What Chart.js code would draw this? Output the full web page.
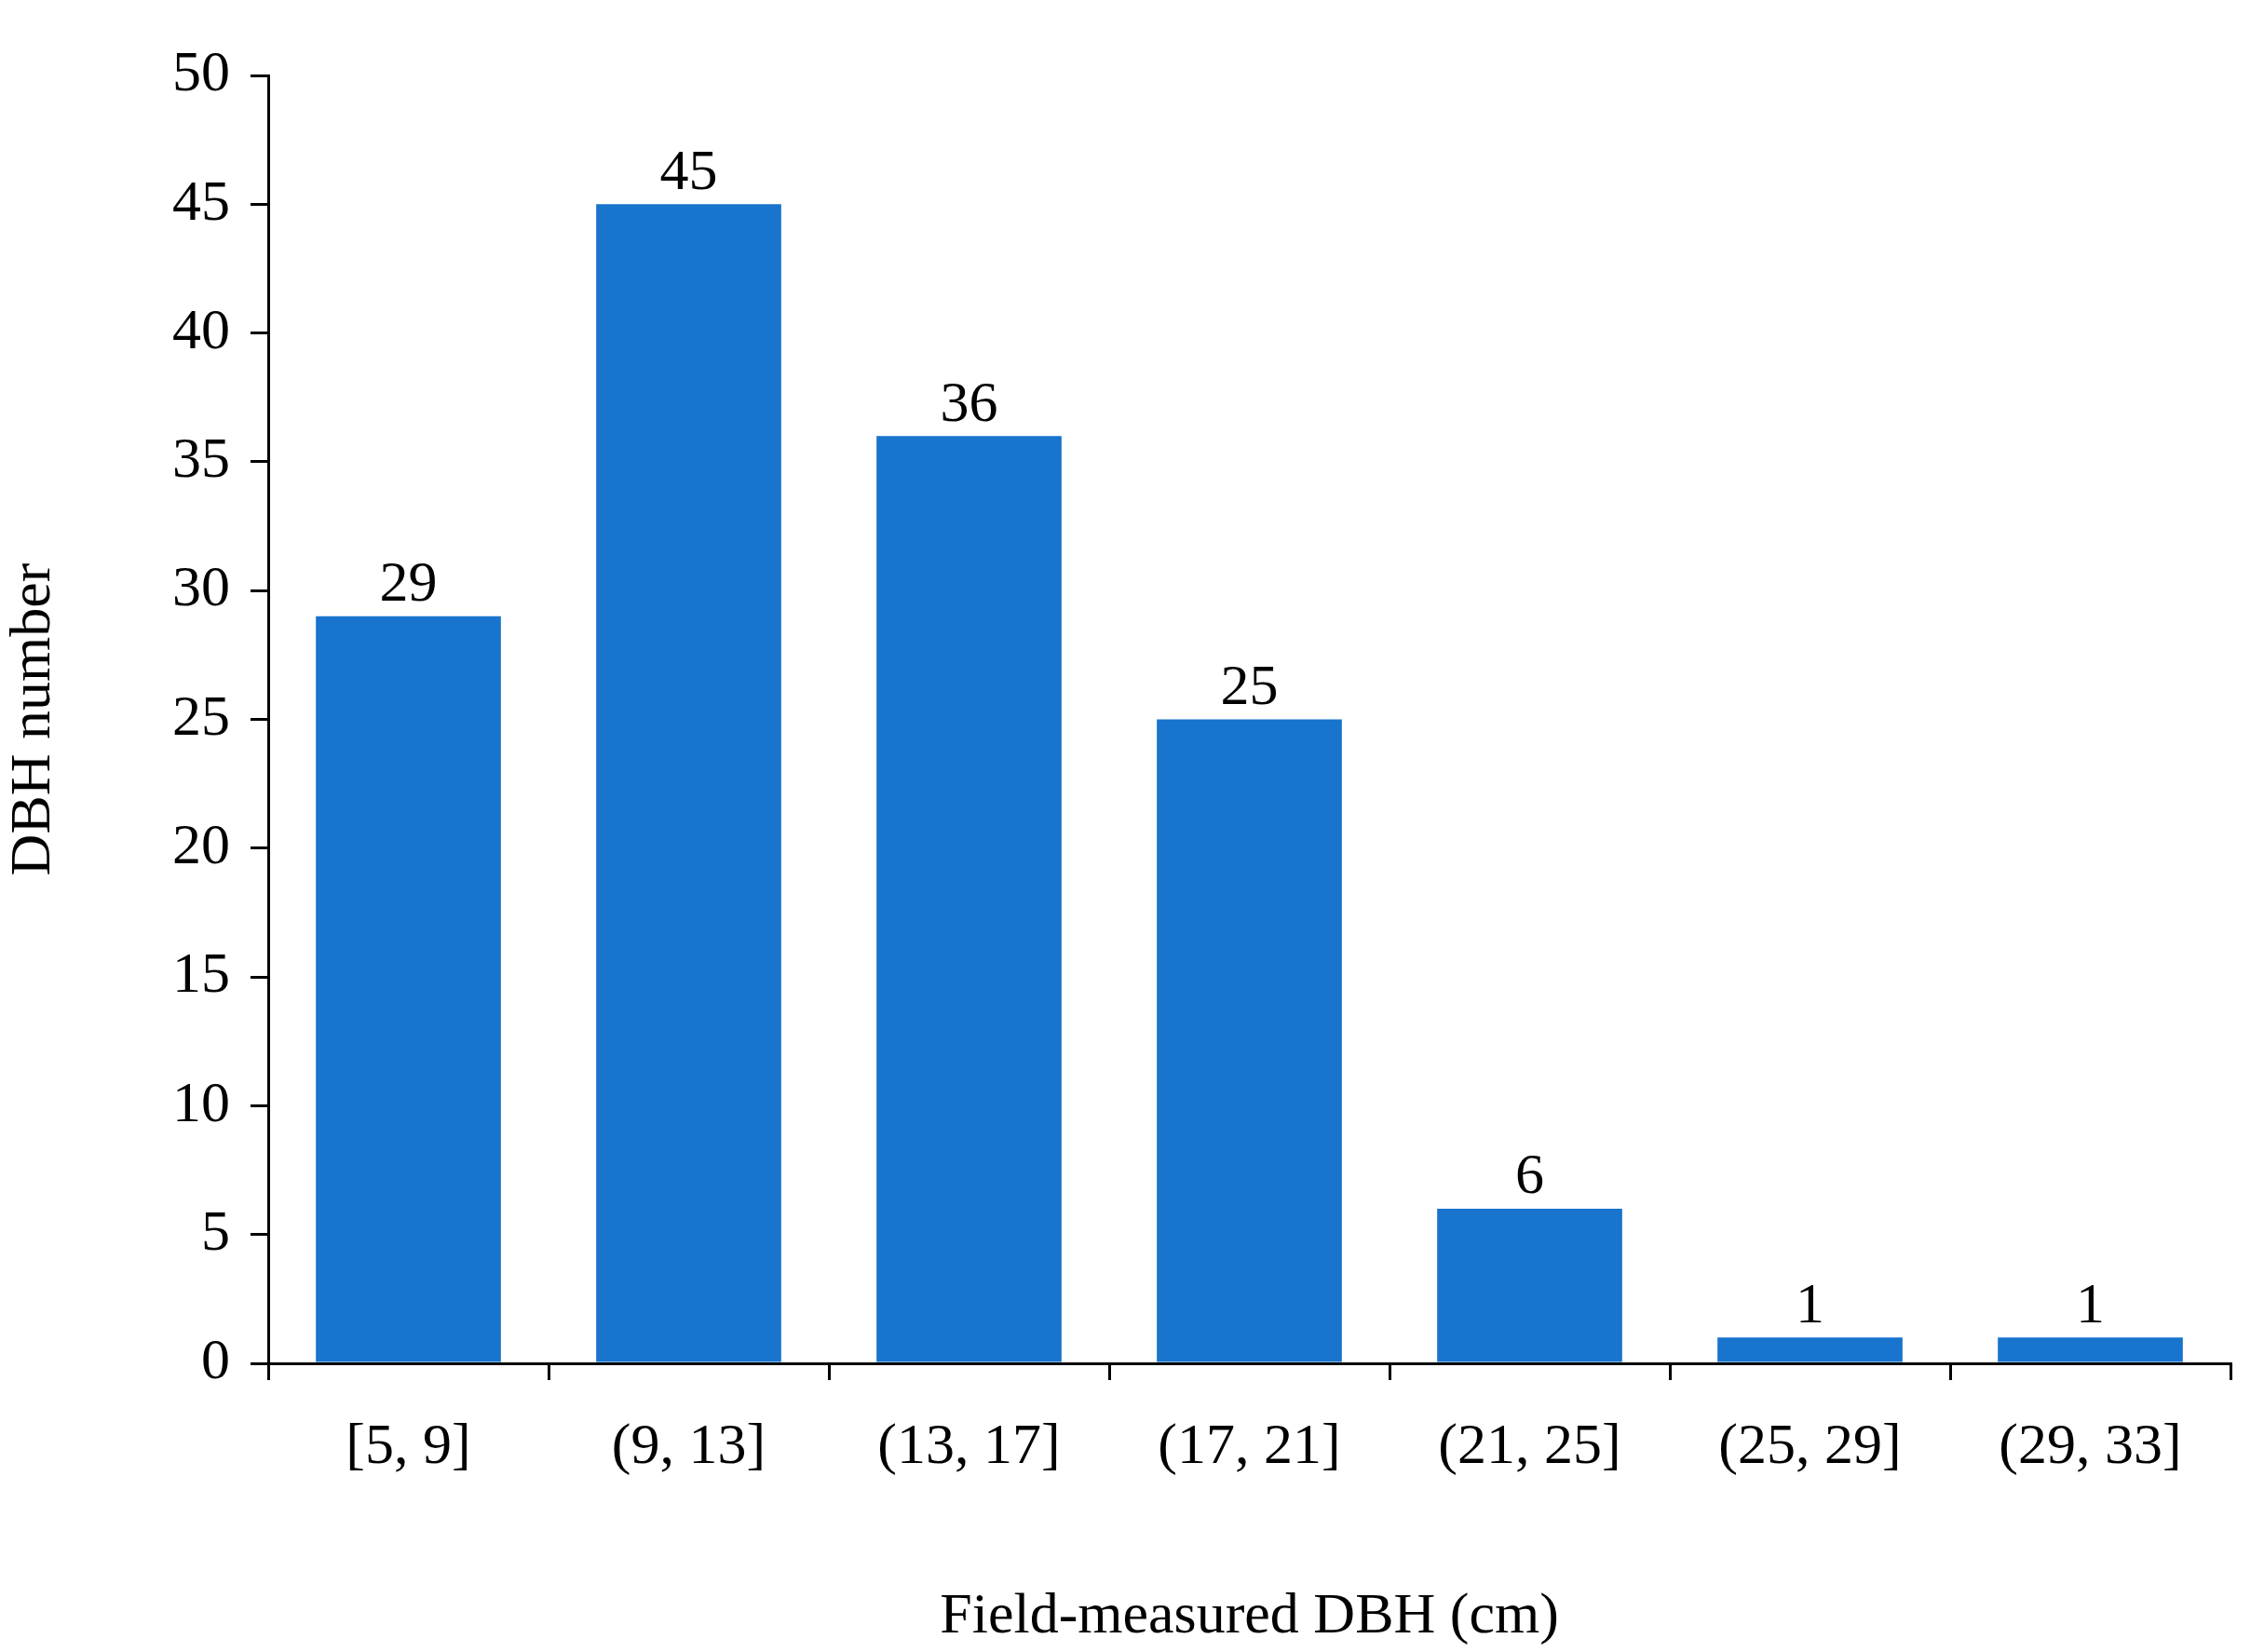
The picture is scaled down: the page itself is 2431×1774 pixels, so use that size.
<!DOCTYPE html>
<html><head><meta charset="utf-8">
<script src="https://cdn.jsdelivr.net/npm/chart.js@4"></script>
<style>html,body{margin:0;padding:0;background:#fff}#c{display:block}</style>
</head><body>
<div style="width:2431px;height:1774px"><canvas id="c"></canvas></div>
<script>
const categories = ['[5, 9]','(9, 13]','(13, 17]','(17, 21]','(21, 25]','(25, 29]','(29, 33]'];
const counts = [29,45,36,25,6,1,1];
const yTicks = [0,5,10,15,20,25,30,35,40,45,50];
const FONT = 'Liberation Serif';
const labelPlugin = {
  id:'lbl',
  afterDatasetsDraw(chart){
    const ctx=chart.ctx, meta=chart.getDatasetMeta(0);
    ctx.save();ctx.fillStyle='#000';ctx.font='62px "'+FONT+'"';ctx.textAlign='center';ctx.textBaseline='bottom';
    meta.data.forEach((b,i)=>ctx.fillText(String(counts[i]),b.x,b.y-2));
    ctx.restore();
  }
};
new Chart(document.getElementById('c'),{
  type:'bar',
  data:{labels:categories,datasets:[{data:counts,backgroundColor:'#1874cc',categoryPercentage:0.66,barPercentage:1}]},
  plugins:[labelPlugin],
  options:{
    responsive:true,maintainAspectRatio:false,animation:false,
    layout:{padding:{top:81,right:36,left:0,bottom:0}},
    plugins:{legend:{display:false},tooltip:{enabled:false}},
    scales:{
      x:{offset:true,
        grid:{offset:true,display:true,drawOnChartArea:false,drawTicks:true,tickLength:18,color:'#000',lineWidth:3},
        border:{display:true,color:'#000',width:3},
        ticks:{color:'#000',font:{family:FONT,size:62},padding:36},
        title:{display:true,text:'Field-measured DBH (cm)',color:'#000',font:{family:FONT,size:62},padding:{top:48,bottom:0}},
        afterFit(s){s.height=310;}
      },
      y:{min:0,max:50,
        afterBuildTicks(s){s.ticks=yTicks.map(v=>({value:v}));},
        grid:{display:true,drawOnChartArea:false,drawTicks:true,tickLength:19,color:'#000',lineWidth:3},
        border:{display:true,color:'#000',width:3},
        ticks:{color:'#000',font:{family:FONT,size:62},padding:22},
        title:{display:true,text:'DBH number',color:'#000',font:{family:FONT,size:62},padding:{top:0,bottom:30}},
        afterFit(s){s.width=288;}
      }
    }
  }
});
</script>
</body></html>
